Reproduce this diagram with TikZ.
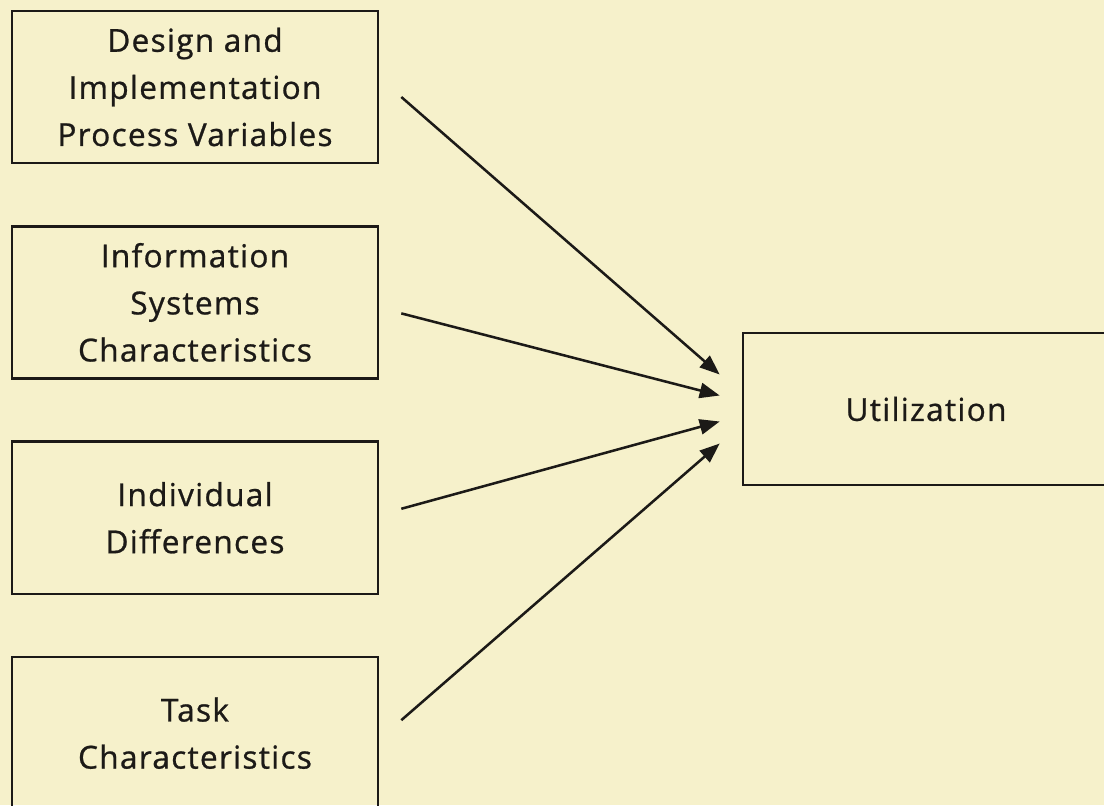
\documentclass[tikz,border=0pt]{standalone}
\usepackage{fontspec}
\usepackage{tikz}
\usetikzlibrary{arrows.meta,positioning,calc}
\newfontfamily\boxfont[LetterSpace=4,FakeBold=0.8]{Open Sans}
\definecolor{paper}{HTML}{F6F1CB}
\definecolor{ink}{HTML}{1C1A17}

\begin{document}
\begin{tikzpicture}[x=0.025cm,y=-0.025cm,>={Triangle[length=0.5cm,width=0.38cm]},
  node distance=1.52cm,
  factor/.style={draw=ink,line width=1.8pt,minimum width=9.15cm,minimum height=3.8cm,
    inner sep=0pt,align=center,text=ink,font={\boxfont\fontsize{22.5}{33.5}\selectfont}},
  link/.style={->,draw=ink,line width=1.8pt}]
  \useasboundingbox (0,0) rectangle (1104,805);
  \clip (0,0) rectangle (1104,805);
  \fill[paper] (0,0) rectangle (1104,805);

  \node[factor] (b1) at (195,87) {Design and\\Implementation\\Process Variables};
  \node[factor] (b2) [below=of b1] {Information\\Systems\\Characteristics};
  \node[factor] (b3) [below=of b2] {Individual\\Differences};
  \node[factor] (b4) [below=of b3] {Task\\Characteristics};
  \node[factor] (util) at (926,409) {Utilization};

  \path ($(b1.east)+(22,10)$) edge[link] ($(util.west)+(-22,-34.5)$)
        ($(b2.east)+(22,11)$) edge[link] ($(util.west)+(-22,-13.5)$)
        ($(b3.east)+(22,-9)$) edge[link] ($(util.west)+(-22,12.5)$)
        ($(b4.east)+(22,-13)$) edge[link] ($(util.west)+(-22,34.5)$);
\end{tikzpicture}
\end{document}
